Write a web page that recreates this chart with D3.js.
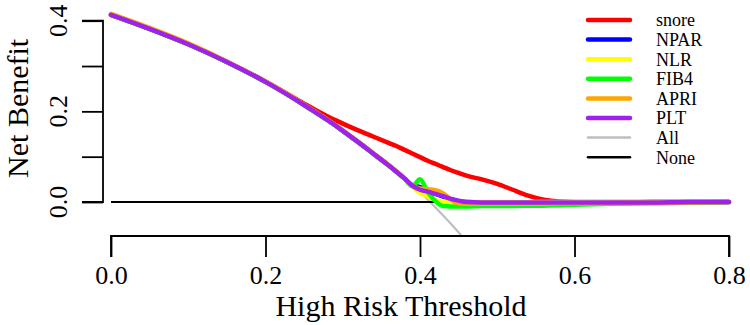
<!DOCTYPE html>
<html>
<head>
<meta charset="utf-8">
<script src="https://cdn.jsdelivr.net/npm/d3@7"></script>
<style>
  html, body { margin: 0; padding: 0; background: #fff; }
  svg { display: block; }
  text { font-family: "Liberation Serif", "Times New Roman", serif; fill: #000; }
</style>
</head>
<body>
<svg id="chart" width="750" height="325"></svg>
<script>
// ---- data ----
const thresholds = [0, 0.05, 0.1, 0.15, 0.2, 0.25, 0.27, 0.28, 0.3, 0.32, 0.34, 0.36, 0.37, 0.38, 0.39, 0.40, 0.41, 0.42, 0.43, 0.44, 0.45, 0.46, 0.48, 0.5, 0.52, 0.54, 0.56, 0.58, 0.6, 0.65, 0.7, 0.75, 0.8];

const snore = [0.413, 0.382, 0.348, 0.309, 0.266, 0.217, 0.198, 0.189, 0.173, 0.158, 0.144, 0.130, 0.123, 0.115, 0.107, 0.099, 0.091, 0.084, 0.077, 0.070, 0.064, 0.058, 0.050, 0.040, 0.027, 0.014, 0.005, 0.001, 0.000, 0.000, 0.000, 0.000, 0.000];
const NPAR  = [0.413, 0.382, 0.348, 0.309, 0.265, 0.214, 0.192, 0.181, 0.157, 0.132, 0.106, 0.080, 0.066, 0.052, 0.037, 0.033, 0.025, 0.018, 0.012, 0.006, 0.002, 0.000, -0.001, -0.001, -0.001, -0.001, -0.001, -0.001, -0.001, -0.001, 0.000, 0.000, 0.000];
const NLR   = [0.413, 0.382, 0.348, 0.309, 0.265, 0.214, 0.192, 0.181, 0.157, 0.132, 0.106, 0.080, 0.066, 0.051, 0.034, 0.020, 0.012, 0.004, 0.001, 0.000, 0.000, 0.000, 0.000, 0.000, 0.000, 0.000, 0.000, 0.000, 0.000, 0.000, 0.000, 0.000, 0.000];
const FIB4  = [0.413, 0.382, 0.348, 0.309, 0.265, 0.214, 0.192, 0.181, 0.157, 0.132, 0.106, 0.080, 0.066, 0.051, 0.035, 0.050, 0.022, 0.002, -0.009, -0.010, -0.010, -0.010, -0.009, -0.009, -0.009, -0.008, -0.008, -0.007, -0.006, -0.004, -0.003, -0.001, 0.000];
const APRI  = [0.415, 0.384, 0.350, 0.310, 0.266, 0.215, 0.193, 0.182, 0.158, 0.133, 0.107, 0.081, 0.067, 0.052, 0.036, 0.030, 0.028, 0.026, 0.019, 0.006, -0.003, -0.004, -0.004, -0.004, -0.004, -0.004, -0.004, -0.003, -0.003, -0.002, -0.002, -0.001, 0.000];
const PLT   = [0.413, 0.382, 0.348, 0.309, 0.265, 0.214, 0.192, 0.181, 0.157, 0.132, 0.106, 0.080, 0.066, 0.052, 0.036, 0.027, 0.023, 0.018, 0.013, 0.007, 0.003, 0.000, -0.001, -0.001, -0.001, -0.001, -0.001, -0.001, -0.001, -0.001, -0.001, 0.000, 0.000];

const allThresholds = [0, 0.05, 0.1, 0.15, 0.2, 0.25, 0.3, 0.35, 0.38, 0.40, 0.42, 0.44, 0.46];
const allValues     = [0.413, 0.382, 0.348, 0.309, 0.266, 0.217, 0.161, 0.097, 0.053, 0.022, -0.012, -0.048, -0.087];
const noneThresholds = [0, 0.8];
const noneValues     = [0, 0];

const seriesNames  = ["snore", "NPAR", "NLR", "FIB4", "APRI", "PLT"];
const seriesValues = [snore, NPAR, NLR, FIB4, APRI, PLT];
const seriesColors = ["#FF0000", "#0000FF", "#FFFF00", "#00FF00", "#FFA500", "#A020F0"];
const legendNames  = ["snore", "NPAR", "NLR", "FIB4", "APRI", "PLT", "All", "None"];
const legendColors = ["#FF0000", "#0000FF", "#FFFF00", "#00FF00", "#FFA500", "#A020F0", "#BEBEBE", "#000000"];

const xTicks = [0, 0.2, 0.4, 0.6, 0.8];
const yTicks = [0, 0.1, 0.2, 0.3, 0.4];
const yTickLabels = [0, 0.2, 0.4];

// ---- layout ----
const svg = d3.select("#chart");
const x = d3.scaleLinear().domain([0, 0.8]).range([111, 729]);
const y = d3.scaleLinear().domain([0, 0.4]).range([202, 20.7]);
const yAxisX = 103;
const xAxisY = 236;

svg.append("defs").append("clipPath").attr("id", "plotclip")
  .append("rect").attr("x", yAxisX).attr("y", 0).attr("width", 750 - yAxisX).attr("height", xAxisY - 0.5);

const line = d3.line().x(d => x(d[0])).y(d => y(d[1])).curve(d3.curveMonotoneX);
const plot = svg.append("g").attr("clip-path", "url(#plotclip)");

plot.append("path")
  .attr("d", line(allThresholds.map((t, i) => [t, allValues[i]])))
  .attr("fill", "none").attr("stroke", "#BEBEBE").attr("stroke-width", 2.2);
plot.append("path")
  .attr("d", d3.line().x(d => x(d[0])).y(d => y(d[1]))(noneThresholds.map((t, i) => [t, noneValues[i]])))
  .attr("fill", "none").attr("stroke", "#000").attr("stroke-width", 2);

seriesValues.forEach((vals, k) => {
  plot.append("path")
    .attr("d", line(thresholds.map((t, i) => [t, vals[i]])))
    .attr("fill", "none").attr("stroke", seriesColors[k])
    .attr("stroke-width", 4.5).attr("stroke-linejoin", "round").attr("stroke-linecap", "round");
});

// ---- axes ----
const xAxis = d3.axisBottom(x).tickValues(xTicks).tickFormat(d3.format(".1f")).tickSize(21).tickPadding(6);
const gx = svg.append("g").attr("transform", `translate(0,${xAxisY})`).call(xAxis);
gx.select(".domain").attr("d", `M${x(0)},21V0H${x(0.8)}V21`).attr("stroke", "#000").attr("stroke-width", 1.8).attr("fill", "none");
gx.selectAll(".tick line").attr("stroke", "#000").attr("stroke-width", 1.8);
gx.selectAll(".tick text").attr("font-size", 26).attr("font-family", "Liberation Serif").attr("dy", "0.71em").attr("y", 30);

const yAxis = d3.axisLeft(y).tickValues(yTicks).tickFormat("").tickSize(21);
const gy = svg.append("g").attr("transform", `translate(${yAxisX},0)`).call(yAxis);
gy.select(".domain").attr("d", `M-21,${y(0.4)}H0V${y(0)}H-21`).attr("stroke", "#000").attr("stroke-width", 1.8).attr("fill", "none");
gy.selectAll(".tick line").attr("stroke", "#000").attr("stroke-width", 1.8);

svg.append("g").selectAll("text").data(yTickLabels).join("text")
  .attr("transform", d => `translate(67,${y(d)}) rotate(-90)`)
  .attr("text-anchor", "middle").attr("font-size", 26)
  .text(d => d3.format(".1f")(d));

svg.append("text")
  .attr("x", 401).attr("y", 316).attr("text-anchor", "middle").attr("font-size", 30)
  .text("High Risk Threshold");
svg.append("text")
  .attr("transform", `translate(27.5,${(y(0) + y(0.4)) / 2 - 3}) rotate(-90)`)
  .attr("text-anchor", "middle").attr("font-size", 30)
  .text("Net Benefit");

// ---- legend ----
const lg = svg.append("g");
legendNames.forEach((name, i) => {
  const yy = 20 + i * 19.6;
  lg.append("line").attr("x1", 588).attr("x2", 630).attr("y1", yy).attr("y2", yy)
    .attr("stroke", legendColors[i]).attr("stroke-width", i < 6 ? 4.5 : 2.5).attr("stroke-linecap", "round");
  lg.append("text").attr("x", 656).attr("y", yy).attr("dy", "0.35em").attr("font-size", 18).text(name);
});
</script>
</body>
</html>
